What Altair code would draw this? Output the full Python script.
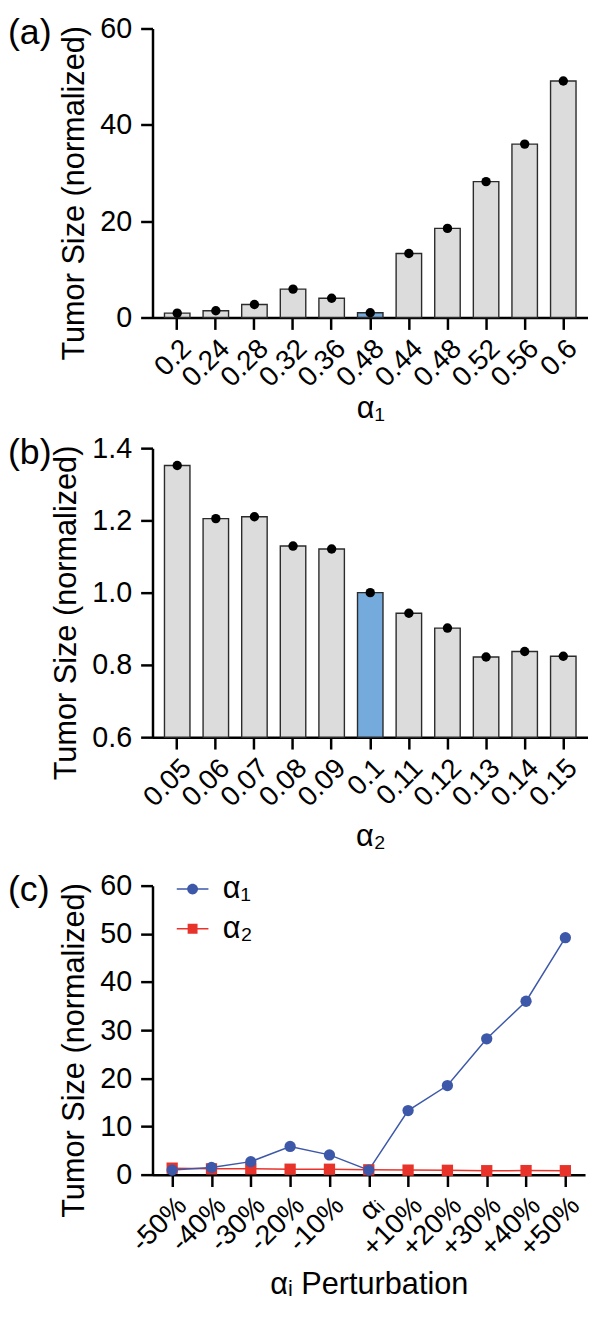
import json
import altair as alt
import pandas as pd

FONT = "Liberation Sans"

# ---- data ----
a1_labels = ["0.2", "0.24", "0.28", "0.32", "0.36", "0.48", "0.44", "0.48", "0.52", "0.56", "0.6"]
a1_values = [0.9, 1.4, 2.7, 5.9, 4.0, 1.0, 13.3, 18.5, 28.2, 36.0, 49.1]

a2_labels = ["0.05", "0.06", "0.07", "0.08", "0.09", "0.1", "0.11", "0.12", "0.13", "0.14", "0.15"]
a2_values = [1.352, 1.205, 1.210, 1.129, 1.121, 1.0, 0.943, 0.902, 0.822, 0.837, 0.824]

pert_labels = ["-50%", "-40%", "-30%", "-20%", "-10%", "αᵢ", "+10%", "+20%", "+30%", "+40%", "+50%"]
c_alpha1 = [0.95, 1.5, 2.7, 5.85, 4.1, 0.95, 13.3, 18.5, 28.2, 36.0, 49.2]
c_alpha2 = [1.35, 1.2, 1.21, 1.13, 1.12, 1.0, 0.94, 0.9, 0.82, 0.84, 0.82]
series_names = ["α₁", "α₂"]
series_colors = ["#3d58a8", "#e8332a"]

baseline_index = 5
YTITLE = "Tumor Size (normalized)"
PANEL_H = 292
PANEL_W = 440


def y_axis(values, fmt, h):
    return alt.Axis(values=values, format=fmt, title=YTITLE, titleY=h / 2 + 20,
                    labelPadding=9, titlePadding=9, tickSize=12, labelFontSize=29)


def x_axis(expr=None, title_pad=4):
    kw = dict(labelAngle=-45, labelAlign="right", labelBaseline="top",
              labelPadding=5, titlePadding=title_pad, tickSize=12, labelFontSize=28)
    if expr:
        kw["labelExpr"] = expr
    return alt.Axis(**kw)


def tag_layer(tag):
    return alt.Chart(pd.DataFrame({"t": [tag]})).mark_text(
        align="left", baseline="top", fontSize=36, font=FONT, color="black"
    ).encode(text="t:N", x=alt.value(-146), y=alt.value(-12))


def bar_panel(labels, values, ymin, ymax, ticks, fmt, xtitle, tag, title_pad):
    df = pd.DataFrame({
        "i": list(range(len(labels))),
        "v": values,
        "base": [ymin] * len(labels),
        "kind": ["ref" if k == baseline_index else "other" for k in range(len(labels))],
    })
    expr = json.dumps(labels) + "[datum.value]"
    x = alt.X("i:O", title=xtitle,
              scale=alt.Scale(paddingInner=0.34, paddingOuter=0.31),
              axis=x_axis(expr, title_pad))
    y = alt.Y("v:Q", scale=alt.Scale(domain=[ymin, ymax], zero=False, nice=False),
              axis=y_axis(ticks, fmt, PANEL_H))
    bars = alt.Chart(df).mark_bar(stroke="#2b2b2b", strokeWidth=1.4).encode(
        x=x, y=y, y2="base:Q",
        color=alt.Color("kind:N", scale=alt.Scale(domain=["other", "ref"],
                                                  range=["#dcdcdc", "#74aadc"]), legend=None),
    )
    dots = alt.Chart(df).mark_circle(size=90, color="black", opacity=1).encode(
        x="i:O", y="v:Q")
    return alt.layer(bars, dots, tag_layer(tag)).properties(width=PANEL_W, height=PANEL_H)


panel_a = bar_panel(a1_labels, a1_values, 0, 60, [0, 20, 40, 60], "d", "α₁", "(a)", 2)
panel_b = bar_panel(a2_labels, a2_values, 0.6, 1.4, [0.6, 0.8, 1.0, 1.2, 1.4], ".1f", "α₂", "(b)", 10)

# ---- panel c ----
rows = []
for s_idx, vals in [(1, c_alpha2), (0, c_alpha1)]:
    for k, v in enumerate(vals):
        rows.append({"p": pert_labels[k], "s": series_names[s_idx], "v": v})
dfc = pd.DataFrame(rows)

xc = alt.X("p:N", sort=pert_labels, title="αᵢ Perturbation",
           scale=alt.Scale(padding=0.5), axis=x_axis(None, 8))
yc = alt.Y("v:Q", scale=alt.Scale(domain=[0, 60], nice=False),
           axis=y_axis(list(range(0, 61, 10)), "d", PANEL_H))
cscale = alt.Scale(domain=series_names, range=series_colors)

lines = alt.Chart(dfc).mark_line(strokeWidth=1.5).encode(
    x=xc, y=yc, color=alt.Color("s:N", scale=cscale, legend=None))
pts = alt.Chart(dfc).mark_point(filled=True, size=130, opacity=1).encode(
    x=alt.X("p:N", sort=pert_labels), y="v:Q",
    color=alt.Color("s:N", scale=cscale, legend=None),
    shape=alt.Shape("s:N", scale=alt.Scale(domain=series_names, range=["circle", "square"]), legend=None),
)

# legend-only layer (no marks drawn, legend entries come from the scale domain)
seg = "M-1.6,-0.075H-0.5V0.075H-1.6ZM0.5,-0.075H1.6V0.075H0.5Z"
circle_path = seg + "M0.55,0A0.55,0.55,0,1,1,-0.55,0A0.55,0.55,0,1,1,0.55,0Z"
square_path = seg + "M-0.5,-0.5H0.5V0.5H-0.5Z"
leg = alt.Legend(
    orient="none", legendX=25, legendY=-12, title=None,
    labelFont=FONT, labelFontSize=31, labelColor="black",
    symbolSize=400, labelOffset=15, rowPadding=8, symbolStrokeWidth=0, symbolOpacity=1,
)
legend_layer = alt.Chart(dfc).transform_filter("false").mark_point(filled=True, opacity=1).encode(
    x=alt.X("p:N", sort=pert_labels), y="v:Q",
    color=alt.Color("s:N", scale=cscale, legend=leg),
    shape=alt.Shape("s:N", scale=alt.Scale(domain=series_names, range=[circle_path, square_path]), legend=leg),
)

panel_c = alt.layer(lines, pts, legend_layer, tag_layer("(c)")).resolve_scale(
    color="independent", shape="independent"
).properties(width=PANEL_W - 3, height=PANEL_H)

chart = alt.vconcat(alt.vconcat(panel_a, panel_b, spacing=10), panel_c, spacing=20).properties(
    padding=0
).configure_view(strokeWidth=0).configure_axis(
    grid=False, domainColor="black", domainWidth=2.5, tickColor="black", tickWidth=2.5,
    tickSize=12, labelFont=FONT, labelFontSize=28, labelColor="black",
    titleFont=FONT, titleFontSize=31, titleFontWeight="normal", titleColor="black",
)

chart.save("out.html", embed_options={"renderer": "svg", "actions": False})
